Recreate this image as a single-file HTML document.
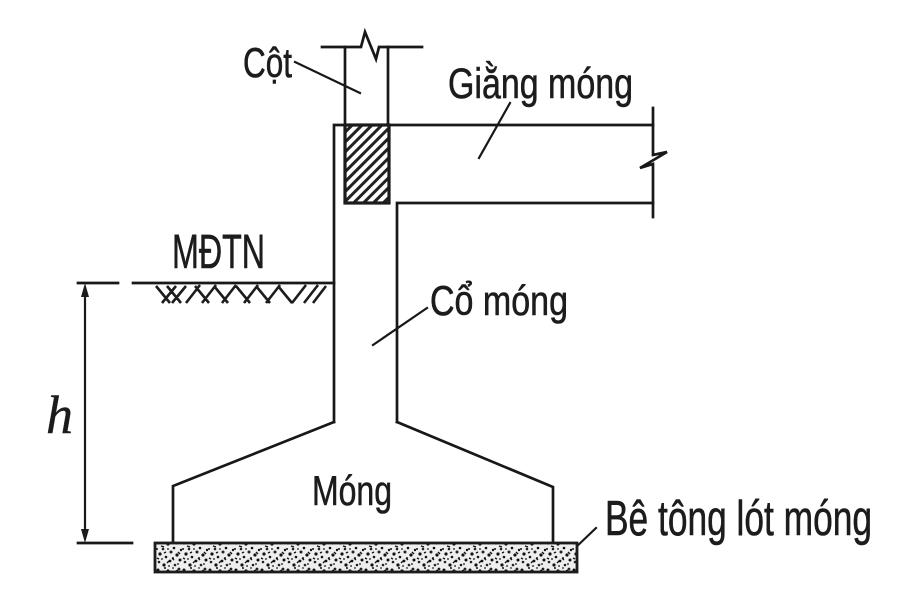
<!DOCTYPE html>
<html>
<head>
<meta charset="utf-8">
<style>
  html,body{margin:0;padding:0;background:#fff;}
  svg{display:block;}
  text{font-family:"Liberation Sans","Noto Sans CJK SC",sans-serif;fill:#1c1c1c;stroke:#1c1c1c;stroke-width:0.6;}
</style>
</head>
<body>
<svg width="900" height="600" viewBox="0 0 900 600" xmlns="http://www.w3.org/2000/svg">
  <defs>
    <pattern id="hatch" patternUnits="userSpaceOnUse" width="7" height="7" patternTransform="rotate(45)">
      <rect width="7" height="7" fill="#fff"/>
      <rect x="0" y="0" width="3" height="7" fill="#222"/>
    </pattern>
    <pattern id="stip" patternUnits="userSpaceOnUse" width="26" height="27">
      <rect width="26" height="27" fill="#eeeeee"/>
      <circle cx="2" cy="3" r="1.5" fill="#111"/>
      <circle cx="7" cy="9" r="1.3" fill="#222"/>
      <circle cx="12" cy="4" r="1.6" fill="#111"/>
      <circle cx="18" cy="8" r="1.3" fill="#111"/>
      <circle cx="23" cy="2" r="1.4" fill="#222"/>
      <circle cx="4" cy="14" r="1.6" fill="#111"/>
      <circle cx="10" cy="17" r="1.3" fill="#111"/>
      <circle cx="15" cy="12" r="1.5" fill="#222"/>
      <circle cx="21" cy="15" r="1.6" fill="#111"/>
      <circle cx="25" cy="10" r="1.2" fill="#111"/>
      <circle cx="3" cy="22" r="1.3" fill="#222"/>
      <circle cx="8" cy="25" r="1.6" fill="#111"/>
      <circle cx="14" cy="21" r="1.4" fill="#111"/>
      <circle cx="19" cy="25" r="1.3" fill="#222"/>
      <circle cx="24" cy="20" r="1.5" fill="#111"/>
      <circle cx="9" cy="1" r="1" fill="#111"/>
      <circle cx="17" cy="1" r="0.9" fill="#222"/>
      <circle cx="12" cy="9" r="0.9" fill="#111"/>
      <circle cx="1" cy="9" r="1" fill="#111"/>
      <circle cx="6" cy="19" r="0.9" fill="#111"/>
      <circle cx="17" cy="18" r="1" fill="#222"/>
      <circle cx="22" cy="24" r="0.9" fill="#111"/>
      <circle cx="13" cy="26" r="0.9" fill="#111"/>
      <path d="M5 6 l3 1 M16 18 l2 2 M20 4 l2 -1 M11 23 l2 -2 M1 18 l2 1 M22 12 l2 2 M8 13 l2 -1" stroke="#111" stroke-width="1.4"/>
    </pattern>
  </defs>

  <g stroke="#181818" stroke-width="2.7" fill="none" stroke-linecap="square">
    <!-- column top break line -->
    <path d="M322,47 H361 L365,32 L376,59 L379,47 H422"/>
    <!-- column sides -->
    <path d="M345,47 V125"/>
    <path d="M388,47 V125"/>
    <!-- beam top + neck left -->
    <path d="M653,125 H334 V422"/>
    <!-- beam bottom + neck right -->
    <path d="M653,203 H397 V422"/>
    <!-- beam end with break -->
    <path d="M653,108 V155 L667,152 L640,168 L653,164 V217"/>
    <!-- footing -->
    <path d="M334,422 L173,486 V543"/>
    <path d="M397,422 L553,487 V543"/>
    <!-- ground line -->
    <path d="M78,283 H118"/>
    <path d="M133,283 H334"/>
    <!-- dimension line -->
    <path d="M85,290 V536" stroke-width="2.2"/>
    <path d="M78,543 H132"/>
    <!-- leaders -->
    <path d="M295,62 L360,93" stroke-width="2.2"/>
    <path d="M510,103 L479,158" stroke-width="2.2"/>
    <path d="M373,345 L427,308" stroke-width="2.2"/>
    <path d="M573,550 L596,528" stroke-width="2.2"/>
  </g>

  <!-- ground hatch -->
  <g stroke="#1c1c1c" stroke-width="2.6" fill="none">
    <path d="M156,286 L170,303 M162,303 L176,286 M167,286 L181,303 M172,303 L186,286
             M186,303 L200,285 M195,286 L209,303 M202,303 L216,285
             M214,286 L228,303 M222,303 L236,285 M236,286 L250,303
             M244,303 L258,285 M256,286 L270,303 M266,303 L280,285
             M278,286 L292,303 M292,303 L306,285 M304,303 L318,285 M313,303 L326,286"/>
  </g>

  <!-- arrows -->
  <path d="M85,283 L81,297 L89,297 Z" fill="#1c1c1c"/>
  <path d="M85,543 L81,529 L89,529 Z" fill="#1c1c1c"/>

  <!-- hatched column section -->
  <rect x="345" y="125" width="44" height="78" fill="url(#hatch)" stroke="#1c1c1c" stroke-width="3.2"/>

  <!-- lean concrete slab -->
  <rect x="155" y="543" width="422" height="29" fill="url(#stip)" stroke="#1c1c1c" stroke-width="2.8"/>

  <!-- labels -->
  <text x="243" y="77" font-size="42" textLength="49" lengthAdjust="spacingAndGlyphs">Cột</text>
  <text x="448" y="98" font-size="43" textLength="185" lengthAdjust="spacingAndGlyphs">Giằng móng</text>
  <text x="172" y="268" font-size="48" textLength="93" lengthAdjust="spacingAndGlyphs">MĐTN</text>
  <text x="430" y="315" font-size="42" textLength="138" lengthAdjust="spacingAndGlyphs">Cổ móng</text>
  <text x="312" y="505" font-size="42" textLength="80" lengthAdjust="spacingAndGlyphs">Móng</text>
  <text x="605" y="535" font-size="49" textLength="267" lengthAdjust="spacingAndGlyphs">Bê tông lót móng</text>
  <text x="46" y="433" font-size="54" font-style="italic" style="font-family:'Liberation Serif',serif;stroke-width:0.4;">h</text>
</svg>
</body>
</html>
